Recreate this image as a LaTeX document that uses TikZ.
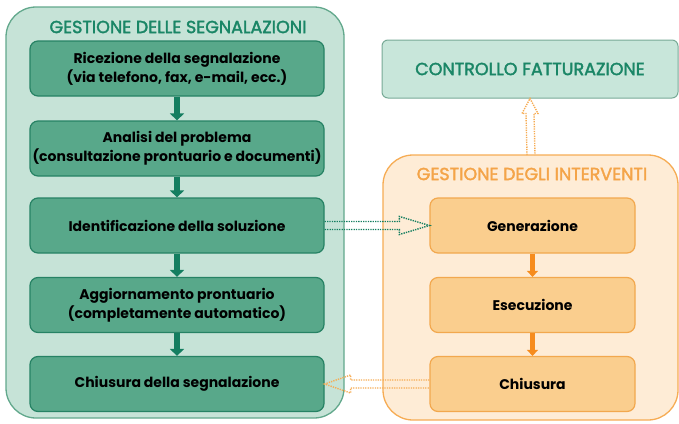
\documentclass[tikz,border=0pt]{standalone}
\usepackage{fontspec}
\setmainfont{Poppins}
\newfontfamily\titlefont{Poppins}[FakeBold=2]
\usetikzlibrary{arrows.meta,calc}
\definecolor{tealbg}{RGB}{198,227,215}
\definecolor{tealedge}{RGB}{98,168,140}
\definecolor{tealbox}{RGB}{88,168,138}
\definecolor{tealboxedge}{RGB}{38,130,100}
\definecolor{tealdark}{RGB}{20,126,96}
\definecolor{tealtitle}{RGB}{26,134,102}
\definecolor{orbg}{RGB}{254,236,214}
\definecolor{oredge}{RGB}{246,172,84}
\definecolor{orbox}{RGB}{250,206,142}
\definecolor{orboxedge}{RGB}{242,168,78}
\definecolor{ordark}{RGB}{246,140,30}
\definecolor{ortitle}{RGB}{244,164,72}
\definecolor{ctrlbg}{RGB}{200,230,218}
\definecolor{ctrledge}{RGB}{120,170,150}
\tikzset{
  container/.style={rounded corners=30pt, line width=1.3pt},
  tealstep/.style={draw=tealboxedge, fill=tealbox, line width=1.2pt, rounded corners=8pt,
    minimum width=294pt, minimum height=55pt, align=center, font=\bfseries\fontsize{14}{19}\selectfont, inner sep=0pt},
  orstep/.style={draw=orboxedge, fill=orbox, line width=1.2pt, rounded corners=8pt,
    minimum width=205pt, minimum height=55pt, align=center, font=\bfseries\fontsize{14}{19}\selectfont, inner sep=0pt},
  tealarrow/.style={draw=tealdark, line width=6pt, -{Triangle[width=14pt,length=7pt]}},
  orarrow/.style={draw=ordark, line width=5pt, -{Triangle[width=11pt,length=6pt]}},
  tealdots/.style={draw=tealdark, line width=1.4pt, dash pattern=on 1.3pt off 1.1pt},
  ordots/.style={draw=oredge, line width=1.4pt, dash pattern=on 1.3pt off 1.1pt},
  titletext/.style={font=\titlefont\fontsize{17.5}{20}\selectfont, inner sep=0pt},
}
\begin{document}
\begin{tikzpicture}[x=1pt,y=-1pt]
\useasboundingbox (0,0) rectangle (679,423);
% containers
\draw[container, fill=tealbg, draw=tealedge] (6,7) rectangle (344,418);
\draw[container, fill=orbg, draw=oredge] (383,155) rectangle (678,420);
\node[titletext, text=tealtitle] (t1) at (178,27) {GESTIONE DELLE SEGNALAZIONI};
\node[titletext, text=ortitle] (t2) at (532,174) {GESTIONE DEGLI INTERVENTI};
% control box
\node[draw=ctrledge, fill=ctrlbg, line width=1pt, rounded corners=6pt, minimum width=296pt, minimum height=58pt,
  text=tealtitle, titletext] (ctrl) at (530,69) {CONTROLLO FATTURAZIONE};
% left steps
\node[tealstep] (b1) at (177,68.5) {Ricezione della segnalazione\\(via telefono, fax, e-mail, ecc.)};
\node[tealstep] (b2) at (177,148.5) {Analisi del problema\\(consultazione prontuario e documenti)};
\node[tealstep] (b3) at (177,225.5) {Identificazione della soluzione};
\node[tealstep] (b4) at (177,305) {Aggiornamento prontuario\\(completamente automatico)};
\node[tealstep] (b5) at (177,384) {Chiusura della segnalazione};
% right steps
\node[orstep] (g1) at (532.5,225.5) {Generazione};
\node[orstep] (g2) at (532.5,305) {Esecuzione};
\node[orstep] (g3) at (532.5,384) {Chiusura};
% solid arrows
\draw[tealarrow] (b1.south) -- (b2.north);
\draw[tealarrow] (b2.south) -- (b3.north);
\draw[tealarrow] (b3.south) -- (b4.north);
\draw[tealarrow] (b4.south) -- (b5.north);
\draw[orarrow] (g1.south) -- (g2.north);
\draw[orarrow] (g2.south) -- (g3.north);
% hollow dotted arrows
\draw[tealdots] ($(b3.east)+(0,-4)$) -- ($(g1.west)+(-30,-4)$) -- ($(g1.west)+(-30,-9)$) -- (g1.west)
  -- ($(g1.west)+(-30,9)$) -- ($(g1.west)+(-30,4)$) -- ($(b3.east)+(0,4)$);
\draw[ordots] ($(g3.west)+(0,-4)$) -- ($(b5.east)+(26,-4)$) -- ($(b5.east)+(26,-9)$) -- (b5.east)
  -- ($(b5.east)+(26,9)$) -- ($(b5.east)+(26,4)$) -- ($(g3.west)+(0,4)$);
\coordinate (otop) at (531,155);
\draw[ordots] ($(otop)+(-4,0)$) -- ($(ctrl.south)+(-4,15)$) -- ($(ctrl.south)+(-8,15)$) -- (ctrl.south)
  -- ($(ctrl.south)+(8,15)$) -- ($(ctrl.south)+(4,15)$) -- ($(otop)+(4,0)$);
\end{tikzpicture}
\end{document}
